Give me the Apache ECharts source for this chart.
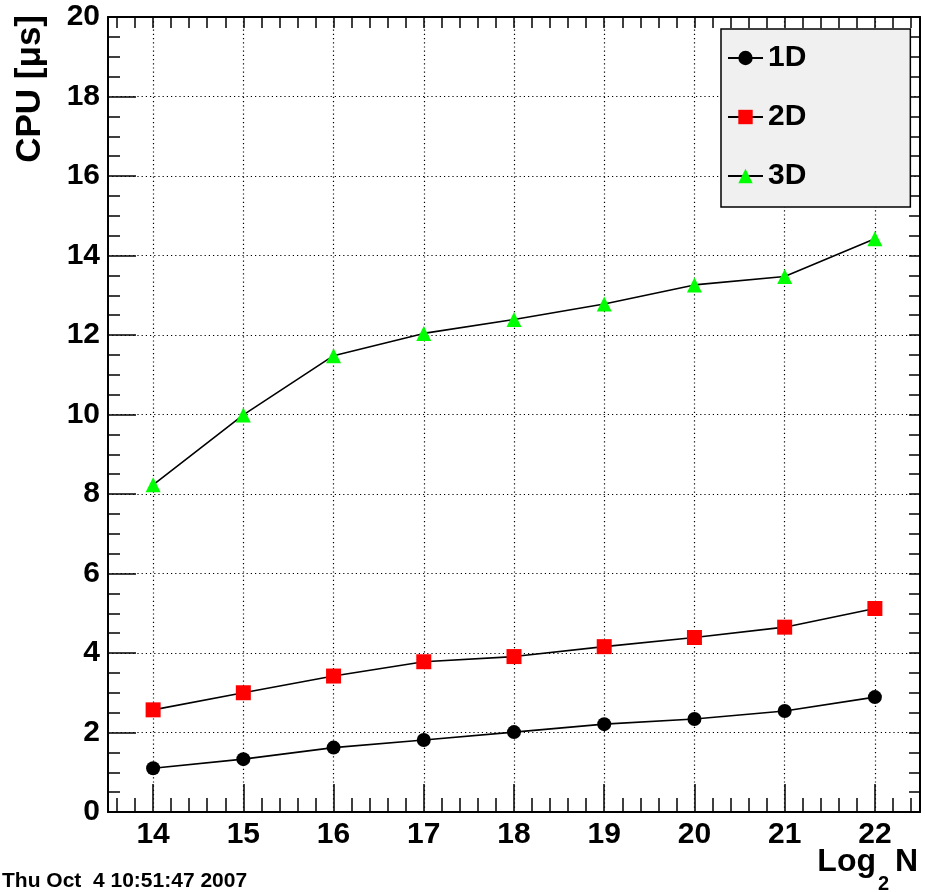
<!DOCTYPE html>
<html>
<head>
<meta charset="utf-8">
<script src="https://cdn.jsdelivr.net/npm/echarts@6/dist/echarts.min.js"></script>
<style>
  html, body { margin: 0; padding: 0; background: #fff; }
  #cpuChart { width: 925px; height: 892px; }
</style>
</head>
<body>
<div id="cpuChart"></div>
<script>
// values
var logN = [14, 15, 16, 17, 18, 19, 20, 21, 22];
var cpu1D = [1.10, 1.33, 1.62, 1.81, 2.01, 2.21, 2.34, 2.54, 2.89];
var cpu2D = [2.57, 3.00, 3.42, 3.78, 3.91, 4.16, 4.39, 4.65, 5.12];
var cpu3D = [8.23, 9.99, 11.48, 12.04, 12.39, 12.78, 13.26, 13.47, 14.42];
var seriesNames = ['1D', '2D', '3D'];

// tick positions of the x axis (major every 1, minor every 0.2)
var xMajorTicks = [14, 15, 16, 17, 18, 19, 20, 21, 22];
var xMinorTicks = [];
for (var t = 136; t <= 224; t += 2) {
    xMinorTicks.push(t / 10);
}

var FONT = 'Liberation Sans, Arial, Helvetica, sans-serif';

function pairs(ys) {
    return logN.map(function (x, i) { return [x, ys[i]]; });
}

var cpuChart = echarts.init(document.getElementById('cpuChart'));

var frameLine = { show: true, lineStyle: { color: '#000', width: 2 } };
var dotted = { show: true, lineStyle: { color: '#000', width: 1.2, type: [1.2, 3] } };

var option = {
    animation: false,
    backgroundColor: '#fff',
    grid: { left: 108, right: 5, top: 17, bottom: 80, outerBoundsMode: 'none' },
    xAxis: [
        {
            type: 'value', position: 'bottom', min: 13.5, max: 22.5,
            axisLine: frameLine,
            axisTick: { show: true, inside: true, length: 28, customValues: xMajorTicks,
                lineStyle: { color: '#000', width: 1.5 } },
            axisLabel: { show: true, customValues: xMajorTicks, margin: 8, color: '#000',
                fontSize: 30, fontWeight: 'bold', fontFamily: FONT },
            splitLine: dotted
        },
        {
            type: 'value', position: 'bottom', min: 13.5, max: 22.5,
            axisLine: { show: false },
            axisTick: { show: true, inside: true, length: 14, customValues: xMinorTicks,
                lineStyle: { color: '#000', width: 1.5 } },
            axisLabel: { show: false },
            splitLine: { show: false }
        },
        {
            type: 'value', position: 'top', min: 13.5, max: 22.5,
            axisLine: frameLine,
            axisTick: { show: true, inside: true, length: 11, customValues: xMinorTicks,
                lineStyle: { color: '#000', width: 1.5 } },
            axisLabel: { show: false },
            splitLine: { show: false }
        }
    ],
    yAxis: [
        {
            type: 'value', position: 'left', min: 0, max: 20, interval: 2,
            axisLine: frameLine,
            axisTick: { show: true, inside: true, length: 28, lineStyle: { color: '#000', width: 1.5 } },
            minorTick: { show: true, splitNumber: 4, length: 12, lineStyle: { color: '#000', width: 1.5 } },
            axisLabel: { margin: 8, color: '#000', fontSize: 30, fontWeight: 'bold', fontFamily: FONT },
            splitLine: dotted
        },
        {
            type: 'value', position: 'right', min: 0, max: 20, interval: 0.5,
            axisLine: frameLine,
            axisTick: { show: true, inside: true, length: 11, lineStyle: { color: '#000', width: 1.5 } },
            axisLabel: { show: false },
            splitLine: { show: false }
        }
    ],
    legend: {
        data: seriesNames,
        orient: 'vertical',
        left: 721, top: 29,
        padding: [14, 104, 16, 6],
        itemGap: 29,
        itemWidth: 35, itemHeight: 18,
        backgroundColor: '#f0f0f0',
        borderColor: '#000', borderWidth: 1.5, borderRadius: 0,
        textStyle: { color: '#000', fontSize: 30, fontWeight: 'bold', fontFamily: FONT, lineHeight: 30 }
    },
    series: [
        {
            name: '1D', type: 'line', xAxisIndex: 0, yAxisIndex: 0,
            symbol: 'circle', symbolSize: 14,
            itemStyle: { color: '#000' },
            lineStyle: { color: '#000', width: 1.6 },
            data: pairs(cpu1D)
        },
        {
            name: '2D', type: 'line', xAxisIndex: 0, yAxisIndex: 0,
            symbol: 'rect', symbolSize: 15,
            itemStyle: { color: '#ff0000' },
            lineStyle: { color: '#000', width: 1.6 },
            data: pairs(cpu2D)
        },
        {
            name: '3D', type: 'line', xAxisIndex: 0, yAxisIndex: 0,
            symbol: 'triangle', symbolSize: 15,
            itemStyle: { color: '#00ff00' },
            lineStyle: { color: '#000', width: 1.6 },
            data: pairs(cpu3D)
        }
    ],
    graphic: [
        {
            type: 'text', x: 30, y: 15, rotation: Math.PI / 2,
            style: { text: 'CPU [μs]', fill: '#000', align: 'right', verticalAlign: 'middle',
                font: 'bold 35px ' + FONT }
        },
        {
            type: 'text', x: 876, y: 862,
            style: { text: 'Log', fill: '#000', align: 'right', verticalAlign: 'middle',
                font: 'bold 32px ' + FONT }
        },
        {
            type: 'text', x: 878, y: 884,
            style: { text: '2', fill: '#000', align: 'left', verticalAlign: 'middle',
                font: 'bold 20px ' + FONT }
        },
        {
            type: 'text', x: 918, y: 862,
            style: { text: 'N', fill: '#000', align: 'right', verticalAlign: 'middle',
                font: 'bold 32px ' + FONT }
        },
        {
            type: 'text', x: 2, y: 881,
            style: { text: 'Thu Oct  4 10:51:47 2007', fill: '#000', align: 'left', verticalAlign: 'middle',
                font: 'bold 21px ' + FONT }
        }
    ]
};

cpuChart.setOption(option);
</script>
</body>
</html>
